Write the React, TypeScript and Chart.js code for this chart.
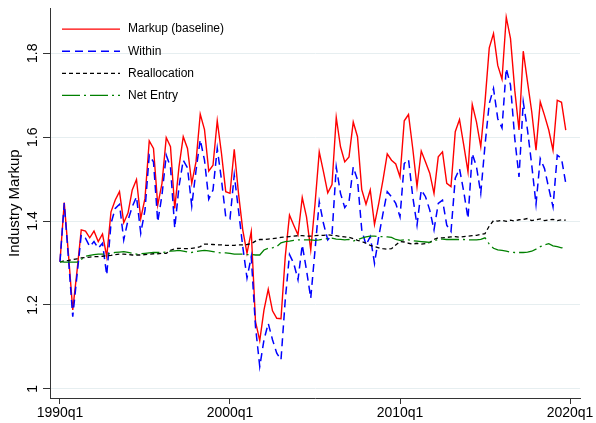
import React, { useEffect, useRef } from 'react';
import { Chart, registerables } from 'chart.js';

Chart.register(...registerables);

const FONT = '"Liberation Sans", Arial, Helvetica, sans-serif';

// Quarter index 0 = 1990q1 ... 119 = 2019q4
const xTickIndex = [0, 40, 80, 120];
const xTickLabels = ['1990q1', '2000q1', '2010q1', '2020q1'];
const yTicks = [1, 1.2, 1.4, 1.6, 1.8];
const seriesNames = ['Markup (baseline)', 'Within', 'Reallocation', 'Net Entry'];

const markup = [
  1.303, 1.444, 1.32, 1.188, 1.28, 1.379, 1.376, 1.36, 1.376, 1.351,
  1.369, 1.315, 1.422, 1.45, 1.47, 1.396, 1.419, 1.474, 1.499, 1.406,
  1.454, 1.591, 1.573, 1.438, 1.49, 1.599, 1.577, 1.43, 1.529, 1.601,
  1.573, 1.49, 1.541, 1.655, 1.618, 1.519, 1.533, 1.639, 1.561, 1.47,
  1.466, 1.571, 1.466, 1.379, 1.323, 1.375, 1.16, 1.115, 1.188, 1.237,
  1.186, 1.168, 1.167, 1.315, 1.414, 1.39, 1.367, 1.456, 1.41, 1.331,
  1.44, 1.565, 1.517, 1.467, 1.487, 1.647, 1.577, 1.541, 1.553, 1.636,
  1.601, 1.475, 1.44, 1.474, 1.392, 1.442, 1.498, 1.56, 1.545, 1.536,
  1.505, 1.639, 1.654, 1.573, 1.482, 1.567, 1.541, 1.514, 1.466, 1.553,
  1.565, 1.49, 1.482, 1.613, 1.642, 1.581, 1.517, 1.678, 1.636, 1.577,
  1.684, 1.813, 1.847, 1.771, 1.738, 1.886, 1.835, 1.712, 1.617, 1.805,
  1.732, 1.66, 1.569, 1.684, 1.652, 1.617, 1.569, 1.688, 1.683, 1.617,
];

const within = [
  1.303, 1.443, 1.31, 1.172, 1.27, 1.367, 1.359, 1.339, 1.351, 1.335,
  1.347, 1.271, 1.394, 1.43, 1.44, 1.355, 1.402, 1.434, 1.458, 1.371,
  1.426, 1.557, 1.541, 1.398, 1.462, 1.557, 1.529, 1.383, 1.482, 1.545,
  1.527, 1.436, 1.52, 1.594, 1.545, 1.452, 1.474, 1.573, 1.498, 1.41,
  1.405, 1.51, 1.426, 1.339, 1.264, 1.315, 1.148, 1.053, 1.117, 1.156,
  1.117, 1.085, 1.069, 1.212, 1.32, 1.299, 1.26, 1.343, 1.283, 1.216,
  1.33, 1.446, 1.394, 1.355, 1.367, 1.529, 1.466, 1.432, 1.446, 1.529,
  1.498, 1.379, 1.343, 1.363, 1.299, 1.363, 1.418, 1.47, 1.458, 1.442,
  1.41, 1.537, 1.547, 1.458, 1.39, 1.474, 1.458, 1.426, 1.379, 1.442,
  1.45, 1.39, 1.375, 1.502, 1.525, 1.47, 1.406, 1.561, 1.529, 1.466,
  1.581, 1.68, 1.716, 1.644, 1.622, 1.764, 1.724, 1.597, 1.505, 1.684,
  1.617, 1.533, 1.44, 1.549, 1.525, 1.478, 1.434, 1.557, 1.549, 1.49,
];

const reallocation = [
  1.302, 1.305, 1.306, 1.308, 1.31, 1.312, 1.313, 1.314, 1.315, 1.315,
  1.316, 1.317, 1.318, 1.32, 1.321, 1.321, 1.32, 1.319, 1.319, 1.319,
  1.32, 1.321, 1.322, 1.322, 1.323, 1.323, 1.33, 1.334, 1.335, 1.334,
  1.334, 1.335, 1.336, 1.339, 1.345, 1.345, 1.344, 1.343, 1.343, 1.342,
  1.342, 1.342, 1.343, 1.343, 1.344, 1.346, 1.352, 1.356, 1.356, 1.357,
  1.358, 1.359, 1.361, 1.362, 1.363, 1.364, 1.365, 1.365, 1.364, 1.364,
  1.365, 1.366, 1.366, 1.367, 1.366, 1.365, 1.363, 1.362, 1.361, 1.358,
  1.354, 1.351, 1.347, 1.342, 1.339, 1.336, 1.334, 1.333, 1.334, 1.343,
  1.351, 1.35, 1.347, 1.345, 1.347, 1.345, 1.346, 1.349, 1.356, 1.36,
  1.36, 1.361, 1.362, 1.363, 1.361, 1.363, 1.364, 1.365, 1.366, 1.368,
  1.37, 1.388, 1.401, 1.4, 1.402, 1.399, 1.402, 1.4, 1.403, 1.404,
  1.406, 1.401, 1.403, 1.405, 1.401, 1.403, 1.404, 1.401, 1.403, 1.402,
];

const netEntry = [
  1.303, 1.302, 1.302, 1.302, 1.302, 1.308, 1.316, 1.318, 1.32, 1.321,
  1.321, 1.321, 1.323, 1.325, 1.326, 1.327, 1.325, 1.323, 1.321, 1.322,
  1.323, 1.324, 1.325, 1.325, 1.325, 1.326, 1.328, 1.329, 1.33, 1.328,
  1.326, 1.325, 1.327, 1.329, 1.33, 1.329, 1.327, 1.325, 1.324, 1.324,
  1.323, 1.321, 1.321, 1.321, 1.32, 1.32, 1.319, 1.319, 1.331, 1.335,
  1.336, 1.339, 1.348, 1.351, 1.352, 1.354, 1.355, 1.355, 1.355, 1.355,
  1.354, 1.355, 1.357, 1.358, 1.359, 1.357, 1.356, 1.355, 1.356, 1.352,
  1.356, 1.359, 1.362, 1.364, 1.364, 1.363, 1.363, 1.362, 1.361, 1.356,
  1.354, 1.355, 1.355, 1.353, 1.352, 1.351, 1.35, 1.349, 1.352, 1.357,
  1.357, 1.356, 1.356, 1.356, 1.356, 1.356, 1.355, 1.355, 1.355, 1.356,
  1.36, 1.345, 1.335, 1.331, 1.33, 1.328, 1.326, 1.325, 1.325, 1.325,
  1.326, 1.328, 1.333, 1.339, 1.343, 1.346, 1.341, 1.339, 1.336, 1.338,
];

const toPoints = (arr: number[]) => arr.map((v, i) => ({ x: i, y: v }));

const insideLegend = {
  id: 'insideLegend',
  afterDatasetsDraw(chart: any) {
    const { ctx, chartArea } = chart;
    ctx.save();
    chart.data.datasets.forEach((ds: any, i: number) => {
      const y = chartArea.top + 20.7 + i * 22.1;
      const x0 = chartArea.left + 12;
      ctx.beginPath();
      ctx.setLineDash(ds.borderDash || []);
      ctx.strokeStyle = ds.borderColor;
      ctx.lineWidth = ds.borderWidth;
      ctx.moveTo(x0, y);
      ctx.lineTo(x0 + 58, y);
      ctx.stroke();
      ctx.setLineDash([]);
      ctx.fillStyle = '#000';
      ctx.font = `12px ${FONT}`;
      ctx.textAlign = 'left';
      ctx.textBaseline = 'middle';
      ctx.fillText(ds.label, x0 + 66, y);
    });
    ctx.restore();
  },
};

export default function App() {
  const ref = useRef<HTMLCanvasElement | null>(null);

  useEffect(() => {
    if (!ref.current) return;
    const chart = new Chart(ref.current, {
      type: 'line',
      data: {
        datasets: [
          {
            label: seriesNames[0],
            data: toPoints(markup),
            borderColor: '#ff0000',
            borderWidth: 1.4,
            pointRadius: 0,
            tension: 0,
            order: 4,
          },
          {
            label: seriesNames[1],
            data: toPoints(within),
            borderColor: '#0000ff',
            borderWidth: 1.5,
            borderDash: [8, 5],
            pointRadius: 0,
            tension: 0,
            order: 3,
          },
          {
            label: seriesNames[2],
            data: toPoints(reallocation),
            borderColor: '#000000',
            borderWidth: 1.3,
            borderDash: [4, 3],
            pointRadius: 0,
            tension: 0,
            order: 2,
          },
          {
            label: seriesNames[3],
            data: toPoints(netEntry),
            borderColor: '#008000',
            borderWidth: 1.3,
            borderDash: [18, 4, 2, 4],
            pointRadius: 0,
            tension: 0,
            order: 1,
          },
        ],
      },
      options: {
        animation: false,
        responsive: false,
        devicePixelRatio: 1,
        layout: { padding: { top: 7, right: 16, left: 0, bottom: 0 } },
        plugins: {
          legend: { display: false },
          tooltip: { enabled: false },
        },
        scales: {
          x: {
            type: 'linear',
            min: -2.35,
            max: 122.35,
            afterBuildTicks: (s: any) => {
              s.ticks = xTickIndex.map((v) => ({ value: v }));
            },
            afterFit: (s: any) => {
              s.height = 25;
            },
            ticks: {
              autoSkip: false,
              maxRotation: 0,
              minRotation: 0,
              padding: 1,
              color: '#000',
              font: { size: 14, family: FONT },
              callback: (_v: any, i: number) => xTickLabels[i],
            },
            grid: {
              drawOnChartArea: false,
              drawTicks: true,
              tickLength: 6,
              tickColor: '#333',
            },
            border: { color: '#333', width: 1 },
          },
          y: {
            type: 'linear',
            min: 0.978,
            max: 1.907,
            afterBuildTicks: (s: any) => {
              s.ticks = yTicks.map((v) => ({ value: v }));
            },
            afterFit: (s: any) => {
              s.width = 50;
            },
            ticks: {
              minRotation: 90,
              maxRotation: 90,
              crossAlign: 'center',
              padding: 0,
              color: '#000',
              font: { size: 14, family: FONT },
              callback: (v: any) => String(v),
            },
            grid: {
              color: '#e6eef0',
              lineWidth: 1,
              drawTicks: true,
              tickLength: 7,
              tickColor: '#333',
            },
            border: { color: '#333', width: 1 },
            title: {
              display: true,
              text: 'Industry Markup',
              color: '#000',
              font: { size: 15, family: FONT },
              padding: { top: 6, bottom: 0 },
            },
          },
        },
      },
      plugins: [insideLegend],
    } as any);
    return () => chart.destroy();
  }, []);

  return (
    <div style={{ position: 'absolute', left: 0, top: 0, width: 596, height: 423, background: '#fff' }}>
      <canvas ref={ref} width={596} height={423} style={{ width: 596, height: 423 }} />
    </div>
  );
}
